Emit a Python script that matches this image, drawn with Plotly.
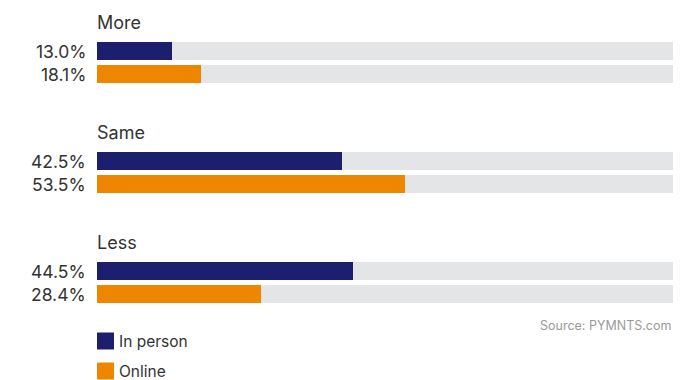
import plotly.graph_objects as go

# Share of consumers spending more / same / less, by channel
groups = ["More", "Same", "Less"]
series = ["In person", "Online"]
in_person = [13.0, 42.5, 44.5]
online = [18.1, 53.5, 28.4]
colors = {"In person": "#1b1f6e", "Online": "#ee8600"}
track_color = "#e4e5e7"
source_text = "Source: PYMNTS.com"

W, H = 690, 380
x0_px, x1_px = 97, 673
first_bar = 51          # centre of the first bar, in px from the top
bar_pitch = 23          # distance between bars inside a group
group_pitch = 110       # distance between groups
bar_h = 17.5
font = "Inter, Open Sans, sans-serif"
text_color = "#333333"

values = {"In person": in_person, "Online": online}

def bar_y(gi, si):
    return first_bar + group_pitch * gi + bar_pitch * si

fig = go.Figure()

# grey tracks at 100 %
track_y = [bar_y(g, s) for g in range(len(groups)) for s in range(len(series))]
fig.add_trace(go.Bar(
    x=[100] * len(track_y), y=track_y, orientation="h", width=bar_h,
    marker=dict(color=track_color, line=dict(width=0)),
    hoverinfo="skip", showlegend=False,
))

annotations = []
for si, name in enumerate(series):
    ys = [bar_y(g, si) for g in range(len(groups))]
    fig.add_trace(go.Bar(
        x=values[name], y=ys, orientation="h", width=bar_h, name=name,
        marker=dict(color=colors[name], line=dict(width=0)),
        showlegend=False,
    ))
    for y, v in zip(ys, values[name]):
        annotations.append(dict(
            x=0, y=y, xref="x", yref="y", text=f"{v:.1f}%",
            showarrow=False, xanchor="right", yanchor="middle", xshift=-9,
            font=dict(family=font, size=17.5, color=text_color),
        ))

for gi, g in enumerate(groups):
    annotations.append(dict(
        x=0, y=bar_y(gi, 0) - 29, xref="x", yref="y", text=g,
        showarrow=False, xanchor="left", yanchor="middle", xshift=-2,
        font=dict(family=font, size=18, color=text_color),
    ))

# source note
annotations.append(dict(
    x=100, y=325, xref="x", yref="y", text=source_text, showarrow=False,
    xanchor="right", yanchor="middle",
    font=dict(family=font, size=12.5, color="#9a9a9a"),
))

# legend swatches
shapes = []
for si, name in enumerate(series):
    cy = 341 + 30 * si
    shapes.append(dict(
        type="rect", xref="paper", yref="y",
        x0=x0_px / W, x1=(x0_px + 17) / W, y0=cy - 8.5, y1=cy + 8.5,
        fillcolor=colors[name], line=dict(width=0), layer="above",
    ))
    annotations.append(dict(
        x=(x0_px + 20) / W, y=cy, xref="paper", yref="y", text=name,
        showarrow=False, xanchor="left", yanchor="middle",
        font=dict(family=font, size=15.5, color=text_color),
    ))

fig.update_layout(
    width=W, height=H, margin=dict(l=0, r=0, t=0, b=0),
    paper_bgcolor="white", plot_bgcolor="white",
    barmode="overlay", bargap=0,
    xaxis=dict(domain=[x0_px / W, x1_px / W], range=[0, 100],
               visible=False, fixedrange=True),
    yaxis=dict(range=[H, 0], visible=False, fixedrange=True),
    annotations=annotations, shapes=shapes,
    font=dict(family=font),
)

fig.write_html("out.html")
